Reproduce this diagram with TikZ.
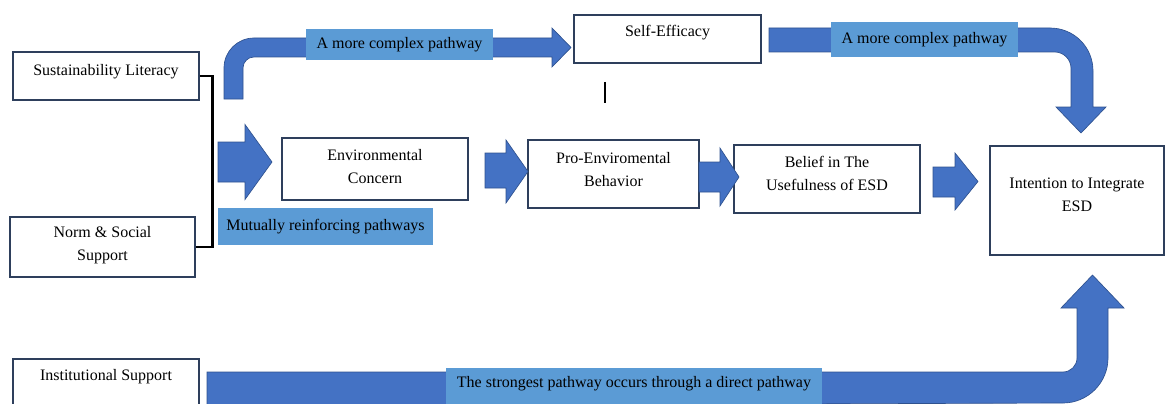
\documentclass[tikz,border=0pt]{standalone}
\usepackage{fontspec}
\setmainfont{Liberation Serif}
\usetikzlibrary{fit,calc}
\definecolor{arrowblue}{HTML}{4472C4}
\definecolor{arrowedge}{HTML}{2F528F}
\definecolor{lblblue}{HTML}{5B9BD5}
\definecolor{boxedge}{HTML}{2E3F5C}
\begin{document}
\begin{tikzpicture}[x=0.75pt,y=-0.75pt,
  box/.style={draw=boxedge, line width=0.8pt, inner sep=0pt, fill=white},
  tx/.style={inner sep=0pt, align=center, font=\fontsize{12}{17.5}\selectfont, text=black},
  lbl/.style={fill=lblblue, inner sep=0pt},
  blk/.style={fill=arrowblue, draw=arrowedge, line width=0.5pt},
  bracket/.style={draw=black, line width=2pt}]
\useasboundingbox (0,0) rectangle (1166,403);
\clip (0,0) rectangle (1166,403);

% bent block arrows
\filldraw[blk] (224,99) -- (224,68) .. controls (224,51.4) and (237.4,38) .. (254,38)
  -- (552,38) -- (552,28) -- (571,47.5) -- (552,67) -- (552,57) -- (254,57)
  .. controls (247.9,57) and (243,61.9) .. (243,68) -- (243,99) -- cycle;
\filldraw[blk] (769,28) -- (1050,28) .. controls (1074,28) and (1093,47) .. (1093,71)
  -- (1093,107) -- (1106,107) -- (1081,133) -- (1056,107) -- (1071,107) -- (1071,68)
  .. controls (1071,59.5) and (1063.5,52) .. (1055,52) -- (769,52) -- cycle;
\filldraw[blk] (207,372) -- (1063,372) .. controls (1070.7,372) and (1077,365.7) .. (1077,358)
  -- (1077,308) -- (1061,308) -- (1092.5,275) -- (1124,308) -- (1108,308) -- (1108,358)
  .. controls (1108,382.8) and (1087.8,403) .. (1063,403) -- (207,406) -- cycle;

% labels
\node[lbl, fit={(306,29) (493,60)}, label={[tx]center:A more complex pathway}] (l1) {};
\node[lbl, fit={(831,22) (1018,57)}, label={[tx]center:A more complex pathway}] (l2) {};
\node[lbl, fit={(218,208) (433,245)}, label={[tx]center:Mutually reinforcing pathways}] (l3) {};
\node[lbl, fit={(446,368) (822,401)}, label={[tx,yshift=0.8pt]center:The strongest pathway occurs through a direct pathway}] (l4) {};
\fill[lblblue] (l4.south west) rectangle ($(l4.south east)+(0,6)$);

% boxes
\node[box, fit={(13,52) (199,100)}, label={[tx,yshift=3pt]center:Sustainability Literacy}] (sl) {};
\node[box, fit={(574,15) (761,63)}, label={[tx,yshift=4.5pt]center:Self-Efficacy}] (se) {};
\node[box, fit={(282,138) (468,200)}, label={[tx,yshift=1.9pt]center:Environmental\\Concern}] (ec) {};
\node[box, fit={(528,140) (699,208)}, label={[tx,yshift=3.4pt]center:Pro-Enviromental\\Behavior}] (pe) {};
\node[box, fit={(734,145) (920,213)}, label={[tx,yshift=4.1pt]center:Belief in The\\Usefulness of ESD}] (bu) {};
\node[box, fit={(990,146) (1164,255)}, label={[tx,yshift=4.5pt]center:Intention to Integrate\\ESD}] (ie) {};
\node[box, fit={(10,217) (195,277)}, label={[tx,yshift=1.5pt]center:Norm \& Social\\Support}] (ns) {};
\node[box, fit={(13,359) (199,420)}, label={[tx,yshift=9.4pt]center:Institutional Support}] (is) {};

% straight block arrows
\filldraw[blk] (218,142) -- (245,142) -- (245,124.5) -- (272,162) -- (245,199.5) -- (245,182) -- (218,182) -- cycle;
\filldraw[blk] (485,153) -- (506,153) -- (506,140) -- (528,171.5) -- (506,203) -- (506,188) -- (485,188) -- cycle;
\filldraw[blk] (699,162) -- (720,162) -- (720,148) -- (739,177) -- (720,206) -- (720,192) -- (699,192) -- cycle;
\filldraw[blk] (933,167) -- (955,167) -- (955,153) -- (978,181.5) -- (955,210) -- (955,197) -- (933,197) -- cycle;

% bracket joining the two inputs
\draw[bracket] (sl.east) -- ++(13,0) |- (ns.east);

% small stray stroke below Self-Efficacy
\coordinate (s1) at (605,82);
\coordinate (s2) at (605,103);
\draw[line width=0.8pt] (s1) -- (s2);
\end{tikzpicture}
\end{document}
